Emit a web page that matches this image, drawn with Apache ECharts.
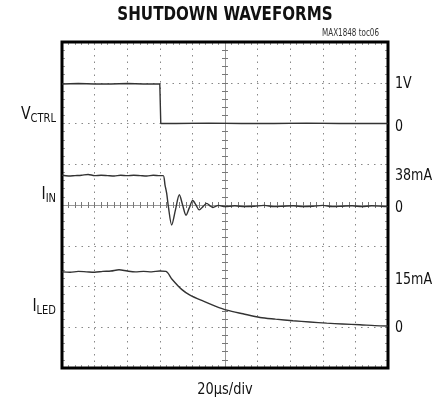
<!DOCTYPE html>
<html>
<head>
<meta charset="utf-8">
<script src="https://cdn.jsdelivr.net/npm/echarts@6/dist/echarts.min.js"></script>
<style>
  html, body { margin: 0; padding: 0; background: #fff; }
  #chart { width: 448px; height: 402px; }
</style>
</head>
<body>
<div id="chart"></div>
<script>
// time in µs (20µs/div), levels in scope divisions (0..8 from bottom)
const ctrlTime = [0, 10, 20, 30, 40, 50, 60, 60.6, 70, 90, 110, 130, 150, 170, 190, 200];
const ctrlLevel = [6.97, 6.98, 6.97, 6.97, 6.98, 6.97, 6.97, 6.0, 6.0, 6.01, 6.0, 6.0, 6.01, 6.0, 6.0, 6.0];

const inTime = [0, 4, 8, 12, 16, 20, 24, 28, 32, 36, 40, 44, 48, 52, 56, 60, 62.1, 63.2, 64.2, 65.2, 67.3,
  69.6, 72.0, 74.0, 76.1, 78.1, 80.2, 82.2, 84.2, 86.5, 88.8, 90.8, 92.6, 96, 100, 106, 112, 118, 124,
  130, 136, 142, 148, 154, 160, 166, 172, 178, 184, 190, 196, 200];
const inLevel = [4.73, 4.71, 4.72, 4.73, 4.75, 4.72, 4.73, 4.72, 4.71, 4.73, 4.72, 4.73, 4.72, 4.71, 4.73, 4.72, 4.72, 4.49, 4.29, 3.98, 3.51,
  3.88, 4.25, 4.0, 3.75, 3.93, 4.11, 4.0, 3.88, 3.96, 4.04, 3.98, 3.94, 3.99, 3.96, 3.98, 3.96, 3.97, 3.99,
  3.96, 3.97, 3.98, 3.96, 3.97, 3.99, 3.96, 3.97, 3.98, 3.96, 3.98, 3.97, 3.96];

const ledTime = [0, 5, 10, 15, 20, 25, 30, 35, 40, 45, 50, 55, 60, 63.8, 67.5, 73.4, 78.5, 86.7, 94, 101.2,
  111, 121.5, 131, 141.7, 152, 162.4, 172, 182.8, 192, 200];
const ledLevel = [2.36, 2.35, 2.37, 2.36, 2.35, 2.37, 2.38, 2.41, 2.38, 2.36, 2.37, 2.36, 2.38, 2.37, 2.18, 1.93, 1.79, 1.64, 1.52, 1.42,
  1.33, 1.24, 1.2, 1.16, 1.13, 1.10, 1.08, 1.06, 1.04, 1.03];

const rightLabels = ["1V", "0", "38mA", "0", "15mA", "0"];

const zip = (xs, ys) => xs.map((x, i) => [x, ys[i]]);

const FONT = "'Liberation Sans Narrow', 'DejaVu Sans Condensed', 'Liberation Sans', sans-serif";
const G = { left: 62, top: 42, width: 326, height: 326 };

const dotted = { color: "#888", width: 1, type: [1.5, 5] };
const tickStyle = { color: "#777", width: 1 };
const edgeTick = { color: "#999", width: 1 };

function borderAxis(kind, pos, grid, split) {
  const isX = kind === "x";
  return {
    type: "value",
    gridIndex: grid,
    position: pos,
    min: 0,
    max: isX ? 200 : 8,
    interval: isX ? 20 : 1,
    axisLine: { show: false, onZero: false },
    axisLabel: { show: false },
    axisTick: { show: true, inside: true, length: 3, lineStyle: edgeTick },
    minorTick: { show: true, splitNumber: 5, length: 3, lineStyle: edgeTick },
    splitLine: { show: split, lineStyle: dotted }
  };
}

function centerAxis(kind, grid, inside) {
  const isX = kind === "x";
  return {
    type: "value",
    gridIndex: grid,
    min: isX ? -100 : -4,
    max: isX ? 100 : 4,
    interval: isX ? 20 : 1,
    axisLine: { show: true, onZero: true, lineStyle: { color: "#999", width: 1 } },
    axisLabel: { show: false },
    axisTick: { show: true, inside: inside, length: 3, lineStyle: tickStyle },
    minorTick: { show: true, splitNumber: 5, length: 3, lineStyle: tickStyle },
    splitLine: { show: false }
  };
}

const traceStyle = { color: "#333", width: 1.4 };

function sub(main, small) {
  return {
    text: "{m|" + main + "}{s|" + small + "}", align: "right", verticalAlign: "middle",
    rich: {
      m: { font: "17px " + FONT, fill: "#111" },
      s: { font: "12px " + FONT, fill: "#111", padding: [8, 0, 0, 0] }
    }
  };
}

const chart = echarts.init(document.getElementById("chart"));
chart.setOption({
  animation: false,
  backgroundColor: "#fff",
  grid: [
    Object.assign({ show: true, z: 3, borderColor: "#000", borderWidth: 3, backgroundColor: "transparent" }, G),
    Object.assign({}, G),
    Object.assign({}, G)
  ],
  xAxis: [
    borderAxis("x", "bottom", 0, true),
    borderAxis("x", "top", 0, false),
    centerAxis("x", 1, true),
    centerAxis("x", 2, false)
  ],
  yAxis: [
    borderAxis("y", "left", 0, true),
    borderAxis("y", "right", 0, false),
    centerAxis("y", 1, true),
    centerAxis("y", 2, false)
  ],
  series: [
    { name: "VCTRL", type: "line", xAxisIndex: 0, yAxisIndex: 0, data: zip(ctrlTime, ctrlLevel),
      showSymbol: false, lineStyle: traceStyle, z: 5 },
    { name: "IIN", type: "line", xAxisIndex: 0, yAxisIndex: 0, data: zip(inTime, inLevel), smooth: 0.3,
      showSymbol: false, lineStyle: traceStyle, z: 5 },
    { name: "ILED", type: "line", xAxisIndex: 0, yAxisIndex: 0, data: zip(ledTime, ledLevel), smooth: 0.3,
      showSymbol: false, lineStyle: traceStyle, z: 5 }
  ],
  graphic: [
    { type: "text", x: 225, y: 15, scaleX: 0.84, style: { text: "SHUTDOWN WAVEFORMS", font: "bold 20px " + FONT,
      fill: "#111", align: "center", verticalAlign: "middle" } },
    { type: "text", x: 379, y: 33, scaleX: 0.8, style: { text: "MAX1848 toc06", font: "10px " + FONT,
      fill: "#333", align: "right", verticalAlign: "middle" } },
    { type: "text", x: 225, y: 390, scaleX: 0.9, style: { text: "20µs/div", font: "16px " + FONT,
      fill: "#111", align: "center", verticalAlign: "middle" } },
    { type: "text", x: 56, y: 115, scaleX: 0.92, style: sub("V", "CTRL") },
    { type: "text", x: 56, y: 195, scaleX: 0.92, style: sub("I", "IN") },
    { type: "text", x: 56, y: 307, scaleX: 0.92, style: sub("I", "LED") }
  ].concat(rightLabels.map((t, i) => ({
    type: "text", x: 395, y: [84, 127, 176, 208, 280, 328][i], scaleX: 0.88,
    style: { text: t, font: "16px " + FONT, fill: "#111", align: "left", verticalAlign: "middle" }
  })))
});
</script>
</body>
</html>
